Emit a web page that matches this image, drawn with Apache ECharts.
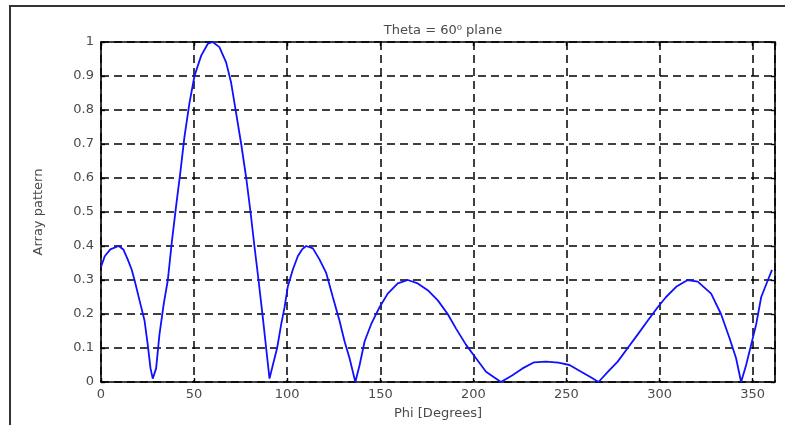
<!DOCTYPE html>
<html>
<head>
<meta charset="utf-8">
<script src="https://cdn.jsdelivr.net/npm/echarts@6/dist/echarts.min.js"></script>
<style>
  html, body { margin: 0; padding: 0; background: #fff; }
  #main { width: 785px; height: 425px; }
</style>
</head>
<body>
<div id="main"></div>
<script>
// values (phi in degrees, normalised array pattern)
var phi = [
  0, 2, 5, 9.5, 12, 14.4, 16.5, 18, 20.7, 23.4, 25.1, 26.6, 27.8, 29.6, 31.4, 33.7,
  35.9, 38, 40.4, 42.7, 44.8, 47.5, 50.2, 53.8, 57.4, 60, 63.6, 67.2, 69.9, 72.6,
  75.3, 78, 80.3, 82.4, 84.6, 86.9, 88.7, 90.5, 92.3, 94.6, 96.8, 98.6, 100.3, 103,
  105.7, 108, 110.2, 113.8, 117.4, 121, 124.5, 128.1, 130.8, 133.5, 136.6, 138.9,
  141.6, 145.1, 149.6, 154, 159.4, 164.8, 170.1, 175.5, 180.9, 186.2, 190.7, 196,
  201.4, 206.8, 214.8, 221, 226.4, 232.6, 238.9, 245.7, 251.6, 257.9, 263.3, 267.2,
  272.2, 277.5, 282.9, 288.3, 293.6, 299, 303.5, 308.9, 315.1, 320.5, 327.7, 333,
  337.5, 341.1, 343.8, 346.5, 349.2, 351.9, 354.6, 358.2, 360.4
];
var pattern = [
  0.338, 0.37, 0.39, 0.40, 0.39, 0.36, 0.33, 0.30, 0.24, 0.18, 0.11, 0.04, 0.01, 0.04, 0.14, 0.23,
  0.30, 0.41, 0.52, 0.62, 0.72, 0.82, 0.90, 0.96, 0.995, 1.0, 0.985, 0.94, 0.88, 0.79,
  0.70, 0.60, 0.50, 0.40, 0.30, 0.19, 0.10, 0.01, 0.05, 0.10, 0.17, 0.22, 0.28, 0.33,
  0.37, 0.39, 0.40, 0.393, 0.36, 0.32, 0.25, 0.18, 0.12, 0.07, 0.0, 0.05,
  0.12, 0.17, 0.22, 0.26, 0.29, 0.30, 0.29, 0.27, 0.24, 0.20, 0.157, 0.11,
  0.07, 0.03, 0.0, 0.02, 0.04, 0.058, 0.06, 0.057, 0.05, 0.03, 0.013, 0.0,
  0.03, 0.06, 0.10, 0.14, 0.18, 0.22, 0.25, 0.28, 0.30, 0.295, 0.26, 0.20,
  0.13, 0.07, 0.0, 0.05, 0.11, 0.17, 0.25, 0.30, 0.33
];
var titleText = 'Theta = 60\u2070 plane';
var xName = 'Phi [Degrees]';
var yName = 'Array pattern';

var myChart = echarts.init(document.getElementById('main'));

var txt = { fontFamily: 'DejaVu Sans', fontSize: 13, color: '#4a4a4a' };
var gridLine = { show: true, lineStyle: { color: '#000', width: 1.5, type: [8, 5] } };
var frameLine = { show: true, onZero: false, lineStyle: { color: '#000', width: 1.6 } };
var ticks = { show: true, inside: true, length: 4, lineStyle: { color: '#000', width: 1.4 } };

option = {
  backgroundColor: '#fff',
  animation: false,
  title: {
    text: titleText,
    left: 438,
    top: 19,
    textAlign: 'center',
    textStyle: { fontFamily: 'DejaVu Sans', fontSize: 13, fontWeight: 'normal', color: '#4a4a4a' }
  },
  grid: { left: 101, right: 10, top: 42, bottom: 41 },
  graphic: [{
    type: 'rect',
    shape: { x: 10, y: 6, width: 800, height: 450 },
    style: { fill: 'none', stroke: '#333', lineWidth: 2 },
    silent: true
  }],
  xAxis: [{
    type: 'value',
    position: 'bottom',
    min: 0, max: 362, interval: 50,
    name: xName,
    nameLocation: 'middle',
    nameGap: 25,
    nameTextStyle: txt,
    axisLine: frameLine,
    axisTick: ticks,
    axisLabel: Object.assign({ margin: 6, showMaxLabel: false }, txt),
    splitLine: gridLine
  }, {
    type: 'value',
    position: 'top',
    min: 0, max: 362, interval: 50,
    axisLine: frameLine,
    axisTick: ticks,
    axisLabel: { show: false },
    splitLine: { show: false }
  }],
  yAxis: [{
    type: 'value',
    position: 'left',
    min: 0, max: 1, interval: 0.1,
    name: yName,
    nameLocation: 'middle',
    nameGap: 56,
    nameTextStyle: txt,
    axisLine: frameLine,
    axisTick: ticks,
    axisLabel: Object.assign({ margin: 7 }, txt),
    splitLine: gridLine
  }, {
    type: 'value',
    position: 'right',
    min: 0, max: 1, interval: 0.1,
    axisLine: frameLine,
    axisTick: ticks,
    axisLabel: { show: false },
    splitLine: { show: false }
  }],
  series: [{
    type: 'line',
    xAxisIndex: 0,
    yAxisIndex: 0,
    showSymbol: false,
    symbol: 'none',
    lineStyle: { color: '#1010ff', width: 1.8 },
    data: phi.map(function (p, i) { return [p, pattern[i]]; })
  }]
};
myChart.setOption(option);
</script>
</body>
</html>
